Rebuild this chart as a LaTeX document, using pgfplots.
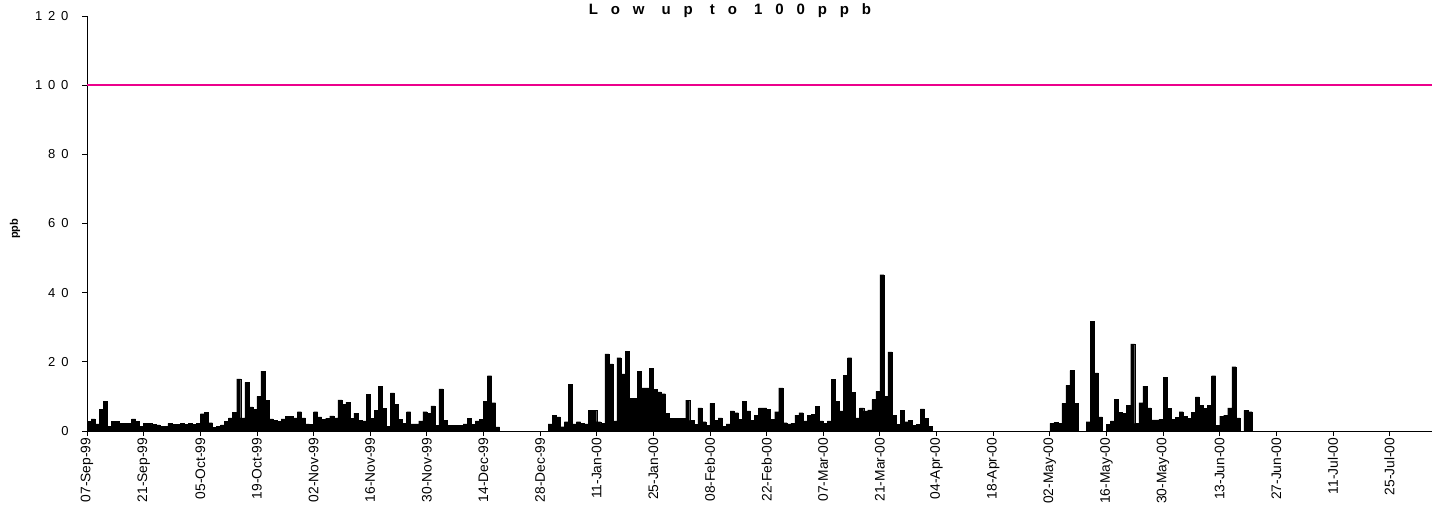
\documentclass[border=0pt]{standalone}
\usepackage{fontspec}
\setmainfont{Liberation Sans}
\newfontfamily\spacedfont[LetterSpace=45]{Liberation Sans}
\newfontfamily\titlefont[LetterSpace=86]{Liberation Sans}
\usepackage{pgfplots}
\pgfplotsset{compat=1.18}

\begin{document}
\begin{tikzpicture}
\begin{axis}[
  scale only axis,
  width=1345pt, height=415pt,
  xmin=0, xmax=332.5,
  ymin=0, ymax=120,
  ytick={0,20,...,120},
  xtick={0,14,...,322},
  xticklabels={07-Sep-99,21-Sep-99,05-Oct-99,19-Oct-99,02-Nov-99,16-Nov-99,30-Nov-99,14-Dec-99,28-Dec-99,11-Jan-00,25-Jan-00,08-Feb-00,22-Feb-00,07-Mar-00,21-Mar-00,04-Apr-00,18-Apr-00,02-May-00,16-May-00,30-May-00,13-Jun-00,27-Jun-00,11-Jul-00,25-Jul-00},
  axis x line*=bottom, axis y line*=left,
  axis line style={-, line width=0.9pt},
  tick style={black, line width=0.8pt},
  tick align=outside,
  major tick length=5pt,
  /pgf/number format/assume math mode=true,
  yticklabel style={font=\spacedfont\fontsize{13}{15}\selectfont, xshift=-10pt},
  xticklabel style={font=\fontsize{13.8}{16}\selectfont, rotate=90, anchor=east, inner sep=1.5pt},
  ylabel={ppb},
  ylabel style={font=\bfseries\fontsize{11}{13}\selectfont, at={(axis description cs:-0.0535,0.487)}, anchor=center},
  title={Low up to 100ppb},
  every axis title shift=0pt,
  title style={font=\titlefont\bfseries\fontsize{15}{17}\selectfont, at={(axis description cs:0.478,1)}, anchor=base, inner sep=0pt, yshift=2pt},
  clip=false,
]
% daily values, ppb (bar for day d spans d..d+1)
\addplot[ybar, bar width=1, fill=black, draw=black, line width=0.3pt, x filter/.expression={x+0.5}]
coordinates {
(0,2.8) (1,3.5) (2,2.1) (3,6.2) (4,8.5) (5,1.3) (6,2.8) (7,2.8) (8,2.2) (9,2.2)
(10,2.2) (11,3.5) (12,2.8) (13,1.4) (14,2.2) (15,2.2) (16,1.9) (17,1.8) (18,1.3) (19,1.3)
(20,2.2) (21,1.9) (22,1.9) (23,2.2) (24,1.9) (25,2.2) (26,2.0) (27,2.2) (28,5.0) (29,5.4)
(30,2.4) (31,1.0) (32,1.3) (33,1.8) (34,2.8) (35,3.8) (36,5.4) (37,15.1) (38,3.8) (39,14.1)
(40,7.0) (41,6.2) (42,10.0) (43,17.3) (44,8.8) (45,3.5) (46,3.1) (47,2.8) (48,3.5) (49,4.3)
(50,4.3) (51,3.8) (52,5.6) (53,3.8) (54,2.1) (55,1.9) (56,5.6) (57,4.1) (58,3.3) (59,3.7)
(60,4.4) (61,3.8) (62,9.0) (63,7.7) (64,8.3) (65,3.7) (66,5.2) (67,3.1) (68,2.9) (69,10.6)
(70,3.6) (71,6.0) (72,12.9) (73,6.5) (74,1.3) (75,11.0) (76,7.7) (77,3.4) (78,2.3) (79,5.6)
(80,2.1) (81,2.1) (82,2.9) (83,5.6) (84,5.2) (85,7.3) (86,1.7) (87,12.2) (88,3.1) (89,1.6)
(90,1.6) (91,1.6) (92,1.6) (93,2.1) (94,3.6) (95,1.9) (96,2.9) (97,3.4) (98,8.5) (99,16.0)
(100,8.2) (101,1.2)
(114,2.1) (115,4.5) (116,4.1) (117,1.25) (118,2.7) (119,13.5)
(120,2.1) (121,2.7) (122,2.2) (123,2.1) (124,6.0) (125,6.0) (126,2.7) (127,2.2) (128,22.3) (129,19.4)
(130,2.9) (131,21.2) (132,16.5) (133,23.1) (134,9.4) (135,9.4) (136,17.3) (137,12.5) (138,12.5) (139,18.1)
(140,12.0) (141,11.3) (142,10.8) (143,5.1) (144,3.6) (145,3.6) (146,3.6) (147,3.6) (148,8.9) (149,3.1)
(150,1.9) (151,6.7) (152,2.7) (153,1.7) (154,8.0) (155,3.1) (156,3.8) (157,1.4) (158,2.1) (159,5.8)
(160,5.3) (161,3.4) (162,8.5) (163,5.8) (164,3.1) (165,4.6) (166,6.7) (167,6.7) (168,6.2) (169,3.4)
(170,5.6) (171,12.5) (172,2.4) (173,2.1) (174,2.2) (175,4.6) (176,5.3) (177,2.9) (178,4.5) (179,4.8)
(180,7.2) (181,2.9) (182,2.2) (183,2.9) (184,14.9) (185,8.5) (186,5.8) (187,16.1) (188,21.2) (189,11.1)
(190,3.8) (191,6.7) (192,5.8) (193,6.1) (194,9.1) (195,11.5) (196,45.2) (197,10.1) (198,22.9) (199,4.5)
(200,1.9) (201,6.0) (202,2.7) (203,3.1) (204,1.7) (205,1.9) (206,6.4) (207,3.7) (208,1.4)
(238,2.2) (239,2.5)
(240,2.2) (241,8.0) (242,13.2) (243,17.5) (244,8.0) (247,2.7) (248,31.7) (249,16.8)
(250,4.1) (252,1.9) (253,2.9) (254,9.1) (255,5.5) (256,5.1) (257,7.4) (258,25.2) (259,2.2)
(260,8.2) (261,13.0) (262,6.7) (263,3.2) (264,3.2) (265,3.4) (266,15.5) (267,6.5) (268,3.4) (269,4.0)
(270,5.6) (271,4.3) (272,3.6) (273,5.5) (274,9.9) (275,7.4) (276,6.5) (277,7.4) (278,16.0) (279,1.6)
(280,4.3) (281,4.6) (282,6.7) (283,18.6) (284,3.8) (286,6.0) (287,5.6)
};
% limit line
\addplot[magenta, line width=1.5pt] coordinates {(0,100) (332.5,100)};
% page frame as in the reference
\path (rel axis cs:-0.0647,-0.1855) rectangle (rel axis cs:1.00743,1.0386);
\end{axis}
\end{tikzpicture}
\end{document}
